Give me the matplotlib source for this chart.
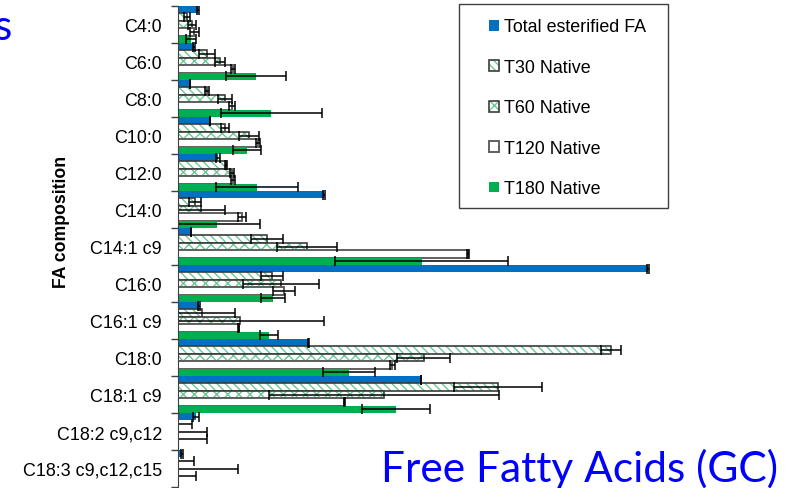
import matplotlib.pyplot as plt
import numpy as np
from matplotlib.patches import Rectangle
from matplotlib.legend_handler import HandlerTuple

plt.rcParams['font.family'] = ['Liberation Sans', 'DejaVu Sans']
plt.rcParams['hatch.linewidth'] = 1.0

# fatty acid composition (% of total)
acids = ["C4:0", "C6:0", "C8:0", "C10:0", "C12:0", "C14:0", "C14:1 c9",
         "C16:0", "C16:1 c9", "C18:0", "C18:1 c9", "C18:2 c9,c12",
         "C18:3 c9,c12,c15"]
series = ["Total esterified FA", "T30 Native", "T60 Native",
          "T120 Native", "T180 Native"]

total = [1.28, 1.02, 0.77, 2.04, 2.55, 9.32, 0.83, 30.0, 1.34, 8.30, 15.51, 1.15, 0.26]
total_err = [0.06, 0.06, 0, 0, 0.13, 0.06, 0.03, 0.06, 0.06, 0.03, 0, 0.22, 0.06]
t30 = [0.57, 1.82, 1.85, 3.00, 3.06, 1.09, 5.68, 6.00, 1.53, 27.64, 20.43, 0.03, 0.03]
t30_err = [0.19, 0.51, 0.13, 0.27, 0.06, 0.40, 1.01, 0.72, 2.11, 0.64, 2.81, 0.89, 1.02]
t60 = [0.89, 2.68, 3.00, 4.53, 3.45, 1.47, 8.23, 6.57, 3.96, 15.70, 13.15, 0.03, 0.03]
t60_err = [0.26, 0.35, 0.43, 0.64, 0.10, 1.53, 1.90, 2.43, 5.36, 1.69, 7.34, 1.85, 3.80]
t120 = [1.05, 3.51, 3.45, 5.11, 3.51, 4.09, 18.51, 6.77, 3.89, 13.66, 10.60, 0.03, 0.03]
t120_err = [0.29, 0.13, 0.21, 0.13, 0.10, 0.26, 0.06, 0.69, 0.03, 0.16, 0.03, 1.82, 1.12]
t180 = [0.86, 4.98, 5.94, 4.40, 5.04, 2.49, 15.57, 6.06, 5.81, 10.91, 13.91, 0, 0]
t180_err = [0.32, 1.91, 3.22, 0.87, 2.62, 2.74, 5.52, 0.77, 0.56, 1.68, 2.16, 0, 0]

W, H = 787, 489
fig = plt.figure(figsize=(W / 100, H / 100), dpi=100)
ax = fig.add_axes([178 / W, 1 - 488 / H, 600 / W, 481 / H])

y = np.arange(len(acids))
h = 0.2
ekw = dict(ecolor='black', elinewidth=1.1, capsize=3.5, capthick=1.1)
hatch_green = '#6cc894'
edge_dark = '#3c3c3c'

b0 = ax.barh(y - 2 * h, total, h, xerr=total_err, color='#0070c0', error_kw=ekw)
# hatched bars: green hatch layer + dark outline layer
b1 = ax.barh(y - h, t30, h, color='white', edgecolor=hatch_green, hatch='\\\\\\\\', lw=0)
b1o = ax.barh(y - h, t30, h, fill=False, edgecolor=edge_dark, lw=1.2,
              xerr=t30_err, error_kw=ekw)
b2 = ax.barh(y, t60, h, color='white', edgecolor=hatch_green, hatch='xxx', lw=0)
b2o = ax.barh(y, t60, h, fill=False, edgecolor=edge_dark, lw=1.2,
              xerr=t60_err, error_kw=ekw)
b3 = ax.barh(y + h, t120, h, color='white', edgecolor='#606060', lw=1.4,
             xerr=t120_err, error_kw=ekw)
b4 = ax.barh(y + 2 * h, t180, h, color='#00b050', xerr=t180_err, error_kw=ekw)

ax.set_xlim(0, 600 / 15.667)
ax.set_ylim(len(acids) - 0.5, -0.5)
ax.set_yticks(y)
ax.set_yticklabels(acids, fontsize=12.9)
ax.set_yticks(np.arange(len(acids) + 1) - 0.5, minor=True)
ax.tick_params(axis='y', which='major', length=0, pad=11.5)
ax.tick_params(axis='y', which='minor', length=5, width=1, color='#404040')
ax.set_xticks([])
for s in ['top', 'right', 'bottom']:
    ax.spines[s].set_visible(False)
ax.spines['left'].set_color('#404040')

fig.text(61 / W, 1 - 222 / H, "FA composition", rotation=90, fontsize=12.7,
         fontweight='bold', ha='center', va='center')

# legend box
fig.patches.append(Rectangle((459 / W, 1 - 209 / H), 209 / W, 204 / H,
                             transform=fig.transFigure, fill=False,
                             edgecolor='#404040', lw=1))
fig.legend([b0, (b1, b1o), (b2, b2o), b3, b4], series,
           handler_map={tuple: HandlerTuple(ndivide=1)},
           loc='upper left', bbox_to_anchor=(489 / W, 1 - 19.5 / H),
           frameon=False, fontsize=12.9, handlelength=0.55, handleheight=0.55,
           handletextpad=0.3, labelspacing=1.31, borderpad=0, borderaxespad=0)

fig.text(381 / W, 1 - 481.7 / H, "Free Fatty Acids (GC)", color='#0000ff',
         fontsize=30.5, family=['Lato', 'DejaVu Sans'], ha='left', va='baseline')
fig.text(12 / W, 1 - 40 / H, "s", color='#0000ff',
         fontsize=30.5, family=['Lato', 'DejaVu Sans'], ha='right', va='baseline')

fig.savefig('out.png', dpi=100)
